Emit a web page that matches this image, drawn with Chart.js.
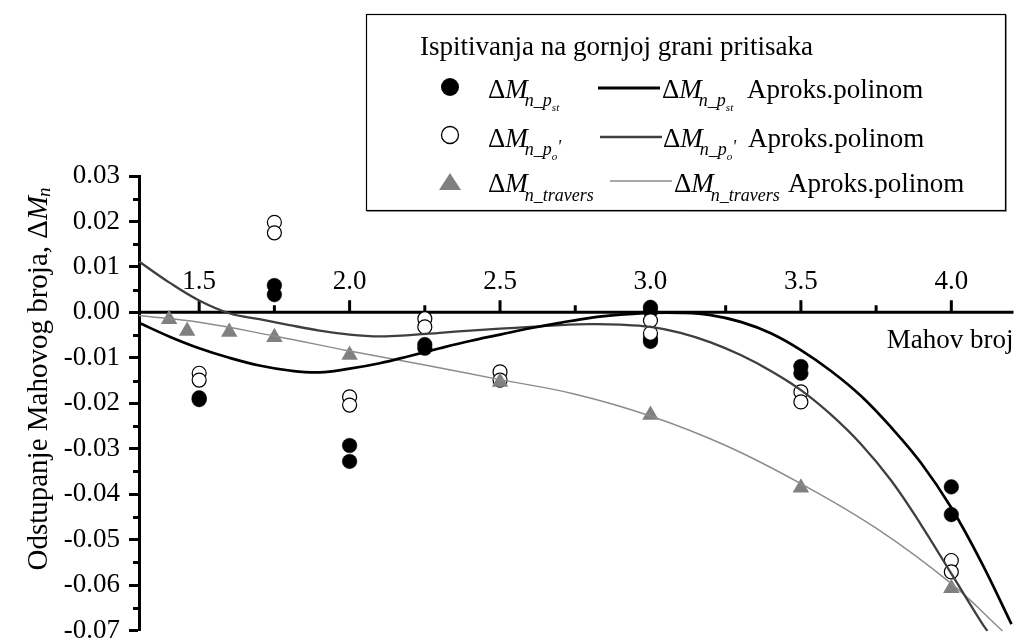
<!DOCTYPE html>
<html>
<head>
<meta charset="utf-8">
<script src="https://cdn.jsdelivr.net/npm/chart.js@4/dist/chart.umd.min.js"></script>
<style>
  html, body { margin: 0; padding: 0; background: #fff; }
  #wrap { width: 1021px; height: 640px; position: relative; }
</style>
</head>
<body>
<div id="wrap"><canvas id="chart" width="1021" height="640"></canvas></div>
<script>
// Measured deviations of the Mach number, ΔMn, against Mach number
const stMach  = [1.5, 1.5, 1.75, 1.75, 2.0, 2.0, 2.25, 2.25, 3.0, 3.0, 3.0, 3.0, 3.5, 3.5, 4.0, 4.0];
const stDelta = [-0.0188, -0.0192, 0.0059, 0.0039, -0.0293, -0.0328, -0.0071, -0.0079, 0.0011, 0.0002, -0.0057, -0.0064, -0.0119, -0.0134, -0.0384, -0.0445];

const poMach  = [1.5, 1.5, 1.75, 1.75, 2.0, 2.0, 2.25, 2.25, 2.5, 2.5, 3.0, 3.0, 3.5, 3.5, 4.0, 4.0];
const poDelta = [-0.0134, -0.0149, 0.0198, 0.0175, -0.0186, -0.0204, -0.0014, -0.0032, -0.0131, -0.0149, -0.0018, -0.0046, -0.0175, -0.0197, -0.0546, -0.0571];

const travMach  = [1.4, 1.46, 1.6, 1.75, 2.0, 2.5, 3.0, 3.5, 4.0];
const travDelta = [-0.0015, -0.0041, -0.0043, -0.0055, -0.0094, -0.0153, -0.0226, -0.0386, -0.0607];

// Polynomial approximation curves
const fitStMach  = [1.3, 1.4, 1.5, 1.6, 1.7, 1.8, 1.9, 2.0, 2.1, 2.2, 2.3, 2.4, 2.5, 2.6, 2.7, 2.8, 2.9, 3.0, 3.1, 3.2, 3.3, 3.4, 3.5, 3.6, 3.7, 3.8, 3.9, 4.0, 4.1, 4.2];
const fitStDelta = [-0.0023, -0.0053, -0.0079, -0.0100, -0.0117, -0.0128, -0.0132, -0.0124, -0.0112, -0.0096, -0.0079, -0.0063, -0.0049, -0.0035, -0.0023, -0.0012, -0.0005, -0.0001, -0.0001, -0.0006, -0.0021, -0.0046, -0.0083, -0.0129, -0.0184, -0.0253, -0.0332, -0.0430, -0.0550, -0.0686];

const fitPoMach  = [1.3, 1.4, 1.5, 1.6, 1.7, 1.8, 1.9, 2.0, 2.1, 2.2, 2.3, 2.4, 2.5, 2.6, 2.7, 2.8, 2.9, 3.0, 3.1, 3.2, 3.3, 3.4, 3.5, 3.6, 3.7, 3.8, 3.9, 4.0, 4.1, 4.12];
const fitPoDelta = [0.0112, 0.0066, 0.0026, -0.0002, -0.0015, -0.0028, -0.0040, -0.0049, -0.0053, -0.0050, -0.0045, -0.0040, -0.0036, -0.0032, -0.0028, -0.0026, -0.0027, -0.0032, -0.0045, -0.0066, -0.0094, -0.0129, -0.0171, -0.0225, -0.0290, -0.0370, -0.0468, -0.0575, -0.0682, -0.0701];

const fitTravMach  = [1.3, 1.5, 1.75, 2.0, 2.25, 2.5, 2.75, 3.0, 3.25, 3.5, 3.75, 4.0, 4.17];
const fitTravDelta = [-0.0007, -0.0022, -0.0052, -0.0085, -0.0116, -0.0148, -0.0180, -0.0228, -0.0293, -0.0377, -0.0475, -0.0597, -0.0701];

// Axis ticks
const xTickValues = [1.5, 2.0, 2.5, 3.0, 3.5, 4.0];
const xTickLabels = ['1.5', '2.0', '2.5', '3.0', '3.5', '4.0'];
const xMinorTickValues = [1.75, 2.25, 2.75, 3.25, 3.75];

const SERIF = '"Liberation Serif", "Times New Roman", Times, serif';
const BLACK = '#000000';
const DARK = '#3f3f3f';
const LIGHT = '#8c8c8c';
const TRI = '#808080';

const toPoints = (xs, ys) => xs.map((x, i) => ({ x: x, y: ys[i] }));
const isMajor = v => Math.abs(v * 100 - Math.round(v * 100)) < 1e-6;

// Draws a run of text pieces (regular / italic / shifted) and returns the end x
function drawRun(ctx, x, baseline, pieces) {
  pieces.forEach(p => {
    ctx.font = (p.italic ? 'italic ' : '') + p.size + 'px ' + SERIF;
    x += (p.dx || 0);
    ctx.fillText(p.t, x, baseline + (p.dy || 0));
    x += ctx.measureText(p.t).width;
  });
  return x;
}
function runWidth(ctx, pieces) {
  let w = 0;
  pieces.forEach(p => {
    ctx.font = (p.italic ? 'italic ' : '') + p.size + 'px ' + SERIF;
    w += (p.dx || 0) + ctx.measureText(p.t).width;
  });
  return w;
}

const deltaM = [
  { t: 'Δ', size: 27 },
  { t: 'M', size: 27, italic: true }
];
const subSt  = [{ t: 'n_p', size: 18, italic: true, dy: 8, dx: -3 }, { t: 'st', size: 11, italic: true, dy: 13 }];
const subPo  = [{ t: 'n_p', size: 18, italic: true, dy: 8, dx: -3 }, { t: 'o', size: 11, italic: true, dy: 13 }, { t: "'", size: 18, italic: true, dy: 6 }];
const subTr  = [{ t: 'n_travers', size: 18, italic: true, dy: 9, dx: -3 }];

const decorPlugin = {
  id: 'decor',
  beforeDatasetsDraw(chart) {
    const ctx = chart.ctx;
    const xs = chart.scales.x, ys = chart.scales.y, area = chart.chartArea;
    ctx.save();
    // minor ticks on the value axis
    ctx.strokeStyle = BLACK;
    ctx.lineWidth = 3;
    ctx.beginPath();
    ys.ticks.forEach(t => {
      if (!isMajor(t.value)) {
        const py = Math.round(ys.getPixelForValue(t.value)) + 0.5;
        ctx.moveTo(area.left - 6, py);
        ctx.lineTo(area.left, py);
      }
    });
    ctx.stroke();

    // Mach number axis crossing at zero
    const y0 = ys.getPixelForValue(0);
    ctx.beginPath();
    ctx.moveTo(area.left, y0);
    ctx.lineTo(area.right + 2, y0);
    ctx.stroke();
    ctx.beginPath();
    xTickValues.forEach(v => {
      const px = xs.getPixelForValue(v);
      ctx.moveTo(px, y0);
      ctx.lineTo(px, y0 - 12);
    });
    xMinorTickValues.forEach(v => {
      const px = xs.getPixelForValue(v);
      ctx.moveTo(px, y0);
      ctx.lineTo(px, y0 - 7);
    });
    ctx.stroke();

    ctx.fillStyle = BLACK;
    ctx.font = '27px ' + SERIF;
    ctx.textAlign = 'center';
    ctx.textBaseline = 'alphabetic';
    xTickValues.forEach((v, i) => {
      ctx.fillText(xTickLabels[i], xs.getPixelForValue(v), y0 - 23);
    });
    ctx.textAlign = 'right';
    ctx.fillText('Mahov broj', area.right + 2, y0 + 36);
    ctx.restore();
  },
  afterDraw(chart) {
    const ctx = chart.ctx;
    ctx.save();
    ctx.fillStyle = BLACK;
    ctx.textAlign = 'left';
    ctx.textBaseline = 'alphabetic';

    // value axis title
    const title = [
      { t: 'Odstupanje Mahovog broja, ', size: 29 },
      { t: 'Δ', size: 29 },
      { t: 'M', size: 29, italic: true },
      { t: 'n', size: 19, italic: true, dy: 3, dx: -1 }
    ];
    const tw = runWidth(ctx, title);
    ctx.translate(47, 379 + tw / 2);
    ctx.rotate(-Math.PI / 2);
    drawRun(ctx, 0, 0, title);
    ctx.setTransform(1, 0, 0, 1, 0, 0);

    // legend box
    ctx.fillStyle = '#ffffff';
    ctx.fillRect(366, 14, 639, 196);
    ctx.strokeStyle = '#9a9a9a';
    ctx.lineWidth = 1;
    ctx.beginPath();
    ctx.moveTo(1006.5, 15); ctx.lineTo(1006.5, 211.5); ctx.lineTo(367, 211.5);
    ctx.stroke();
    ctx.strokeStyle = BLACK;
    ctx.lineWidth = 1.2;
    ctx.strokeRect(366.5, 14.5, 639, 196);

    ctx.fillStyle = BLACK;
    ctx.font = '27px ' + SERIF;
    ctx.fillText('Ispitivanja na gornjoj grani pritisaka', 420, 55);

    // row 1: filled circles
    ctx.beginPath(); ctx.arc(450, 87, 9, 0, Math.PI * 2); ctx.fill();
    let ex = drawRun(ctx, 488, 98, deltaM); drawRun(ctx, ex, 98, subSt);
    ctx.strokeStyle = BLACK; ctx.lineWidth = 3;
    ctx.beginPath(); ctx.moveTo(598, 88); ctx.lineTo(660, 88); ctx.stroke();
    ex = drawRun(ctx, 662, 98, deltaM); drawRun(ctx, ex, 98, subSt);
    drawRun(ctx, 747, 98, [{ t: 'Aproks.polinom', size: 27 }]);

    // row 2: open circles
    ctx.lineWidth = 1.3;
    ctx.fillStyle = '#ffffff';
    ctx.beginPath(); ctx.arc(450, 135, 8.5, 0, Math.PI * 2); ctx.fill(); ctx.stroke();
    ctx.fillStyle = BLACK;
    ex = drawRun(ctx, 488, 147, deltaM); drawRun(ctx, ex, 147, subPo);
    ctx.strokeStyle = DARK; ctx.lineWidth = 2.7;
    ctx.beginPath(); ctx.moveTo(600, 137); ctx.lineTo(662, 137); ctx.stroke();
    ex = drawRun(ctx, 663, 147, deltaM); drawRun(ctx, ex, 147, subPo);
    drawRun(ctx, 748, 147, [{ t: 'Aproks.polinom', size: 27 }]);

    // row 3: triangles
    ctx.fillStyle = TRI;
    ctx.beginPath(); ctx.moveTo(450, 173); ctx.lineTo(461, 190); ctx.lineTo(439, 190); ctx.closePath(); ctx.fill();
    ctx.fillStyle = BLACK;
    ex = drawRun(ctx, 488, 192, deltaM); drawRun(ctx, ex, 192, subTr);
    ctx.strokeStyle = LIGHT; ctx.lineWidth = 1.7;
    ctx.beginPath(); ctx.moveTo(610, 181); ctx.lineTo(672, 181); ctx.stroke();
    ex = drawRun(ctx, 674, 192, deltaM); drawRun(ctx, ex, 192, subTr);
    drawRun(ctx, 788, 192, [{ t: 'Aproks.polinom', size: 27 }]);
    ctx.restore();
  }
};

const lineStyle = (color, width) => ({
  type: 'scatter', showLine: true, pointRadius: 0, pointHoverRadius: 0,
  borderColor: color, borderWidth: width, tension: 0.4,
  fill: false, clip: false, order: 0
});

new Chart(document.getElementById('chart'), {
  type: 'scatter',
  data: {
    datasets: [
      Object.assign({ label: 'ΔMn_p_st Aproks.polinom', data: toPoints(fitStMach, fitStDelta) }, lineStyle(BLACK, 2.7)),
      Object.assign({ label: "ΔMn_p_o' Aproks.polinom", data: toPoints(fitPoMach, fitPoDelta) }, lineStyle(DARK, 2.3)),
      Object.assign({ label: 'ΔMn_travers Aproks.polinom', data: toPoints(fitTravMach, fitTravDelta) }, lineStyle(LIGHT, 1.5)),
      {
        label: 'ΔMn_travers', data: toPoints(travMach, travDelta), order: 1,
        pointStyle: 'triangle', pointRadius: 9.5, backgroundColor: TRI, borderColor: TRI, borderWidth: 0
      },
      {
        label: "ΔMn_p_o'", data: toPoints(poMach, poDelta), order: 2,
        pointStyle: 'circle', pointRadius: 7, backgroundColor: '#ffffff', borderColor: BLACK, borderWidth: 1.2
      },
      {
        label: 'ΔMn_p_st', data: toPoints(stMach, stDelta), order: 3,
        pointStyle: 'circle', pointRadius: 7.3, backgroundColor: BLACK, borderColor: BLACK, borderWidth: 0.5
      }
    ]
  },
  options: {
    responsive: false,
    animation: false,
    events: [],
    layout: { padding: { top: 176, bottom: 8, left: 0, right: 6 } },
    plugins: { legend: { display: false }, tooltip: { enabled: false } },
    scales: {
      x: { type: 'linear', min: 1.3, max: 4.2, display: false },
      y: {
        type: 'linear', min: -0.07, max: 0.03,
        afterFit(scale) { scale.width = 139; scale.paddingTop = 0; scale.paddingBottom = 0; },
        border: { display: true, color: BLACK, width: 3 },
        grid: {
          drawOnChartArea: false, drawTicks: true, tickLength: 10, tickWidth: 3,
          tickColor: ctx => (ctx.tick && isMajor(ctx.tick.value)) ? BLACK : 'rgba(0,0,0,0)'
        },
        ticks: {
          stepSize: 0.005, autoSkip: false, padding: 9, color: BLACK,
          font: { family: SERIF, size: 27 },
          callback: v => isMajor(v) ? (Math.round(v * 100) / 100).toFixed(2) : ''
        }
      }
    }
  },
  plugins: [decorPlugin]
});
</script>
</body>
</html>
